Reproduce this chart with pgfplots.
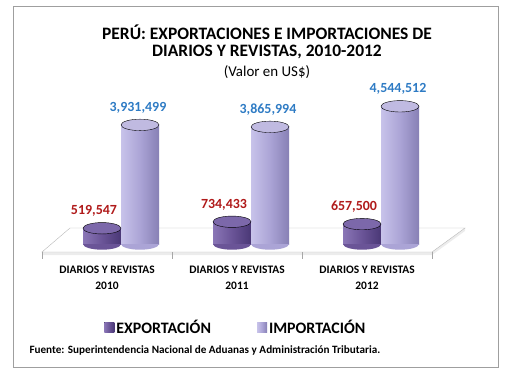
\documentclass[border=0pt]{standalone}
\usepackage{pgfplots}
\pgfplotsset{compat=1.18}
\usepackage{fontspec}
\setmainfont{Carlito}
\definecolor{expL}{HTML}{8A76B6}
\definecolor{expM}{HTML}{6A5497}
\definecolor{expD}{HTML}{4A3876}
\definecolor{expC}{HTML}{7C68AA}
\definecolor{impL}{HTML}{C8C3EA}
\definecolor{impM}{HTML}{ABA4D6}
\definecolor{impD}{HTML}{8780B5}
\definecolor{impC}{HTML}{C0BAE1}
\definecolor{labR}{HTML}{B01A1A}
\definecolor{labB}{HTML}{2E7BC4}
\pgfdeclareplotmark{lowhalf}{%
  \pgfpathmoveto{\pgfqpoint{-\pgfplotmarksize}{0pt}}%
  \pgfpatharc{180}{360}{\pgfplotmarksize}%
  \pgfpathclose
  \pgfusepathqfill}
\begin{document}
\begin{tikzpicture}[x=1bp,y=1bp]
\path (0,0) rectangle (505,379);
\draw[gray!75, line width=1bp] (13,12) rectangle (498,372);
% titles
\node[font=\bfseries\fontsize{17.5}{18}\selectfont] at (267,347) {PERÚ: EXPORTACIONES E IMPORTACIONES DE};
\node[font=\bfseries\fontsize{17.5}{18}\selectfont] at (267,327) {DIARIOS Y REVISTAS, 2010-2012};
\node[font=\fontsize{15}{16}\selectfont] at (267,307) {(Valor en US\$)};
% floor
\fill[gray!15] (42,124) -- (432,124) -- (465,148) -- (465,151) -- (432,127) -- (42,127) -- cycle;
\filldraw[fill=white, draw=gray!55] (42,127) -- (432,127) -- (465,151) -- (70,151) -- cycle;
\foreach \xx in {42,172,302,432} \draw[gray!70] (\xx,127) -- (\xx,120);
\node[anchor=west, font=\bfseries\fontsize{11.2}{12}\selectfont] at (26,29) {Fuente: Superintendencia Nacional de Aduanas y Administración Tributaria.};
\begin{axis}[
  at={(42bp,135bp)}, anchor=south west,
  scale only axis, width=390bp, height=151.5bp,
  xmin=-0.5, xmax=2.5, ymin=0, ymax=5000000,
  hide y axis,
  axis x line*=bottom, x axis line style={draw=none},
  xtick={0,1,2}, major tick length=0pt,
  xticklabels={{DIARIOS Y REVISTAS\\2010},{DIARIOS Y REVISTAS\\2011},{DIARIOS Y REVISTAS\\2012}},
  xticklabel style={align=center, font=\bfseries\fontsize{11.5}{15.5}\selectfont, inner sep=0pt, yshift=-22bp},
  clip=false,
  point meta=explicit symbolic,
  legend columns=2,
  legend style={draw=none, fill=none, at={(0.497,-0.55)}, anchor=center,
    font=\bfseries\fontsize{16}{16}\selectfont,
    /tikz/every even column/.append style={column sep=44bp}},
  legend image code/.code={\fill[#1] (0bp,-5bp) rectangle (10bp,5bp);},
]
% bars
\pgfplotsset{
  expbar/.style={ybar, bar shift=-5bp, bar width=38bp, draw=none, left color=expL, right color=expD, middle color=expM},
  impbar/.style={ybar, bar shift=33bp, bar width=38bp, draw=none, left color=impL, right color=impD, middle color=impM},
}
\addplot[expbar] coordinates {(0,519547)};
\addplot[impbar] coordinates {(0,3931499)};
\addplot[expbar, forget plot] coordinates {(1,734433)};
\addplot[expbar, forget plot] coordinates {(2,657500)};
\addplot[impbar, forget plot] coordinates {(1,3865994)};
\addplot[impbar, forget plot] coordinates {(2,4544512)};
% bottom caps (lower half ellipses)
\addplot[forget plot, only marks, mark=lowhalf, mark size=19bp, draw=none, mark options={draw=none, fill=expM, xshift=-5bp, yscale=0.3}]
  coordinates {(0,0) (1,0) (2,0)};
\addplot[forget plot, only marks, mark=lowhalf, mark size=19bp, draw=none, mark options={draw=none, fill=impM, xshift=33bp, yscale=0.3}]
  coordinates {(0,0) (1,0) (2,0)};
% top caps + labels
\addplot[forget plot, only marks, mark=*, mark size=19bp, draw=none, mark options={draw=none, fill=expC, xshift=-5bp, yscale=0.3},
  nodes near coords, every node near coord/.append style={font=\bfseries\fontsize{14}{14}\selectfont, text=labR, xshift=-8bp, yshift=8bp, anchor=south}]
  table[meta=lab] {x y lab
  0 519547 519,547
  1 734433 734,433
  2 657500 657,500
  };
\addplot[forget plot, only marks, mark=*, mark size=19bp, draw=none, mark options={draw=none, fill=impC, xshift=33bp, yscale=0.3},
  nodes near coords, every node near coord/.append style={font=\bfseries\fontsize{14}{14}\selectfont, text=labB, xshift=-2bp, yshift=8bp, anchor=south}]
  table[meta=lab] {x y lab
  0 3931499 3,931,499
  1 3865994 3,865,994
  2 4544512 4,544,512
  };
\legend{EXPORTACIÓN, IMPORTACIÓN}
\end{axis}
\end{tikzpicture}
\end{document}
